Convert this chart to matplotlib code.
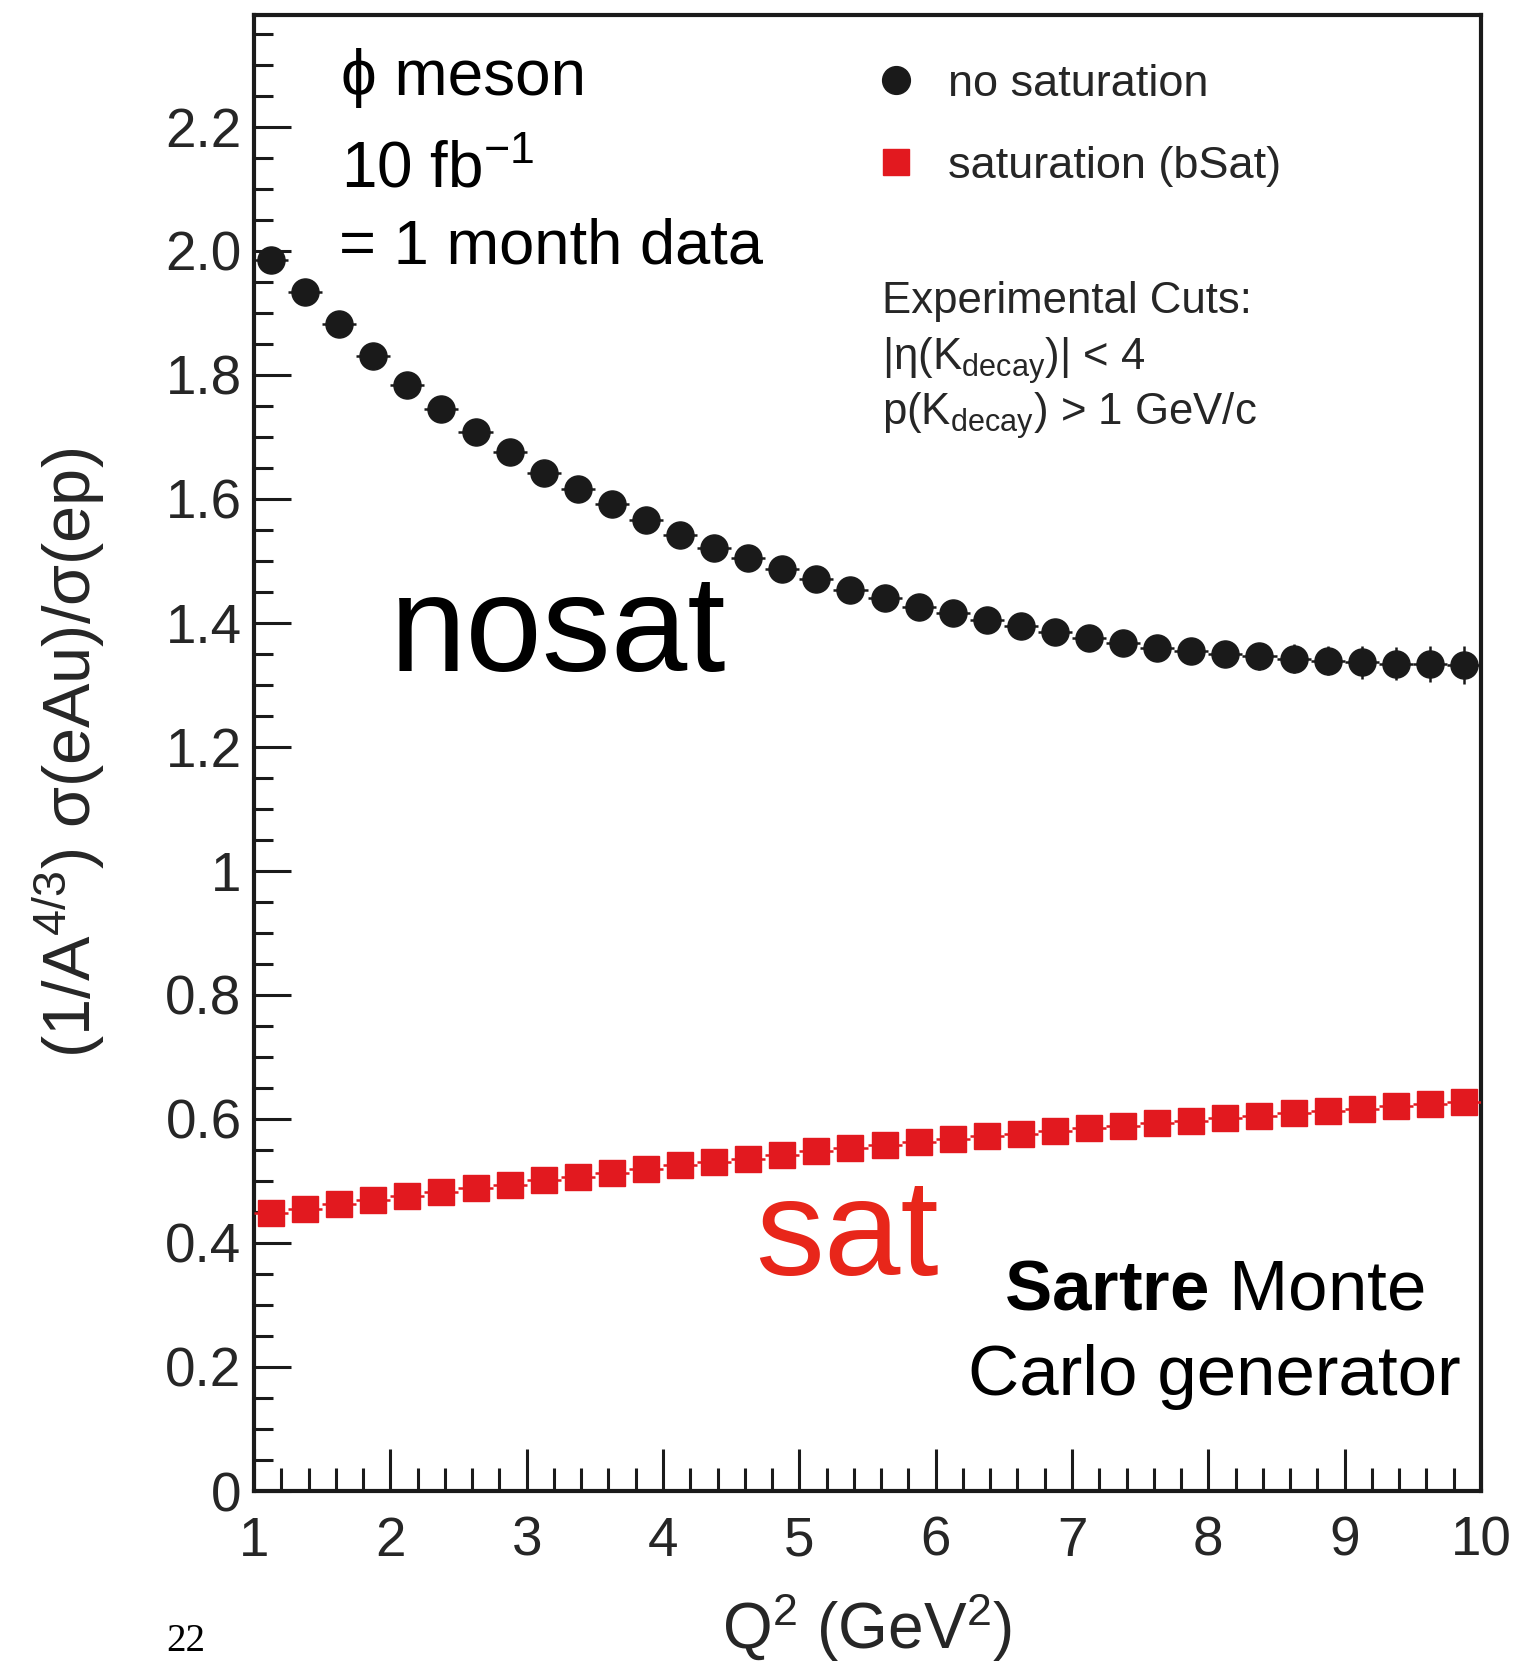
import matplotlib
matplotlib.use('Agg')
from matplotlib import pyplot as plt
from matplotlib.lines import Line2D
from matplotlib.ticker import MultipleLocator, FixedLocator, FixedFormatter

plt.rcParams['font.family'] = ['Liberation Sans', 'DejaVu Sans']
plt.rcParams['mathtext.fontset'] = 'custom'
plt.rcParams['mathtext.rm'] = 'Liberation Sans'
plt.rcParams['mathtext.it'] = 'Liberation Sans:italic'
plt.rcParams['mathtext.bf'] = 'Liberation Sans:bold'

# Q^2 bin centres (bins of width 0.25 GeV^2 from 1 to 10)
q2 = [1.125, 1.375, 1.625, 1.875, 2.125, 2.375, 2.625, 2.875, 3.125, 3.375,
      3.625, 3.875, 4.125, 4.375, 4.625, 4.875, 5.125, 5.375, 5.625, 5.875,
      6.125, 6.375, 6.625, 6.875, 7.125, 7.375, 7.625, 7.875, 8.125, 8.375,
      8.625, 8.875, 9.125, 9.375, 9.625, 9.875]
q2_halfwidth = 0.125

# ratio without saturation
nosat = [1.985, 1.933, 1.881, 1.830, 1.784, 1.745, 1.708, 1.675, 1.642, 1.616,
         1.591, 1.565, 1.542, 1.521, 1.504, 1.486, 1.470, 1.453, 1.440, 1.426,
         1.416, 1.405, 1.395, 1.385, 1.375, 1.367, 1.360, 1.355, 1.350, 1.346,
         1.342, 1.339, 1.336, 1.334, 1.333, 1.332]
nosat_err = [0.004, 0.004, 0.005, 0.005, 0.005, 0.006, 0.006, 0.006, 0.007, 0.007,
             0.008, 0.008, 0.009, 0.009, 0.010, 0.010, 0.011, 0.012, 0.012, 0.013,
             0.014, 0.015, 0.016, 0.016, 0.017, 0.018, 0.019, 0.020, 0.021, 0.022,
             0.023, 0.024, 0.026, 0.027, 0.029, 0.031]

# ratio with saturation (bSat)
sat = [0.448, 0.455, 0.462, 0.469, 0.476, 0.482, 0.488, 0.494, 0.501, 0.507,
       0.513, 0.519, 0.525, 0.530, 0.536, 0.542, 0.548, 0.553, 0.558, 0.563,
       0.567, 0.572, 0.576, 0.580, 0.585, 0.589, 0.593, 0.597, 0.601, 0.605,
       0.609, 0.613, 0.616, 0.620, 0.624, 0.628]

series_labels = ['no saturation', 'saturation (bSat)']
x_ticks = [1, 2, 3, 4, 5, 6, 7, 8, 9, 10]
y_ticks = [0, 0.2, 0.4, 0.6, 0.8, 1.0, 1.2, 1.4, 1.6, 1.8, 2.0, 2.2]
y_tick_labels = ['0', '0.2', '0.4', '0.6', '0.8', '1', '1.2', '1.4', '1.6',
                 '1.8', '2.0', '2.2']

W, H = 1532, 1666
BLACK = '#1a1a1a'
RED = '#e2191f'
GREY = '#262626'


def fx(px):
    return px / W


def fy(py):
    return 1 - py / H


fig = plt.figure(figsize=(W / 100, H / 100), dpi=100)
ax = fig.add_axes([fx(254), fy(1491), (1481 - 254) / W, (1491 - 15) / H])

ax.errorbar(q2, nosat, xerr=q2_halfwidth, yerr=nosat_err, fmt='o', ms=19.5,
            color=BLACK, elinewidth=1.8, capsize=0, zorder=3)
ax.errorbar(q2, sat, xerr=q2_halfwidth, fmt='s', ms=18.5, color=RED,
            elinewidth=1.8, capsize=0, zorder=3)

ax.set_xlim(1, 10)
ax.set_ylim(0, 2.38)

ax.xaxis.set_major_locator(FixedLocator(x_ticks))
ax.xaxis.set_minor_locator(MultipleLocator(0.2))
ax.yaxis.set_major_locator(FixedLocator(y_ticks))
ax.yaxis.set_major_formatter(FixedFormatter(y_tick_labels))
ax.yaxis.set_minor_locator(MultipleLocator(0.05))

ax.tick_params(axis='both', which='both', direction='in', colors=BLACK,
               labelcolor=GREY, width=2.2, labelsize=39.5, top=False, right=False)
ax.tick_params(axis='y', which='major', length=26.5, pad=9)
ax.tick_params(axis='y', which='minor', length=13.5)
ax.tick_params(axis='x', which='major', length=30, pad=18)
ax.tick_params(axis='x', which='minor', length=16.5)
for sp in ax.spines.values():
    sp.set_linewidth(3)
    sp.set_color(BLACK)

ax.set_xlabel(r'Q$^{\mathregular{2}}$ (GeV$^{\mathregular{2}}$)', fontsize=46,
              color=GREY)
ax.xaxis.set_label_coords(0.5, -0.068)
ax.set_ylabel(r'(1/A$^{\mathregular{4/3}}$) σ(eAu)/σ(ep)', fontsize=48,
              color=GREY, va='center')
ax.yaxis.set_label_coords(-0.151, 0.5)

# legend
handles = [Line2D([], [], marker='o', ls='none', color=BLACK, ms=20),
           Line2D([], [], marker='s', ls='none', color=RED, ms=19)]
fig.legend(handles, series_labels, loc='upper left',
           bbox_to_anchor=(fx(873), fy(64)), frameon=False, fontsize=32.5,
           handlelength=1.0, handletextpad=0.66, labelspacing=0.9,
           borderpad=0, borderaxespad=0, labelcolor=GREY)

# experimental cuts
cut_size = 31.5
fig.text(fx(882), fy(313), 'Experimental Cuts:', fontsize=cut_size, color=GREY,
         va='baseline')
fig.text(fx(882), fy(370), r'|η(K$_{\mathregular{decay}}$)| < 4',
         fontsize=cut_size, color=GREY, va='baseline')
fig.text(fx(882), fy(425), r'p(K$_{\mathregular{decay}}$) > 1 GeV/c',
         fontsize=cut_size, color=GREY, va='baseline')

# annotations on top of the plot
fig.text(fx(341), fy(95), 'ϕ meson', fontsize=46, va='baseline')
fig.text(fx(341), fy(188), r'10 fb$^{\mathregular{-1}}$', fontsize=46,
         va='baseline')
fig.text(fx(339), fy(263), '= 1 month data', fontsize=45.5, va='baseline')
fig.text(fx(390), fy(671), 'nosat', fontsize=99, va='baseline')
fig.text(fx(755), fy(1275), 'sat', fontsize=99, color='#e8261a',
         va='baseline')
fig.text(fx(1214), fy(1310), r'$\mathbf{Sartre}$ Monte', fontsize=51,
         ha='center', va='baseline')
fig.text(fx(1214), fy(1395), 'Carlo generator', fontsize=51, ha='center',
         va='baseline')

# page number
fig.text(fx(166), fy(1660), '22', fontsize=28, family='Liberation Serif',
         va='bottom')

fig.savefig('out.png', dpi=100, facecolor='white')
